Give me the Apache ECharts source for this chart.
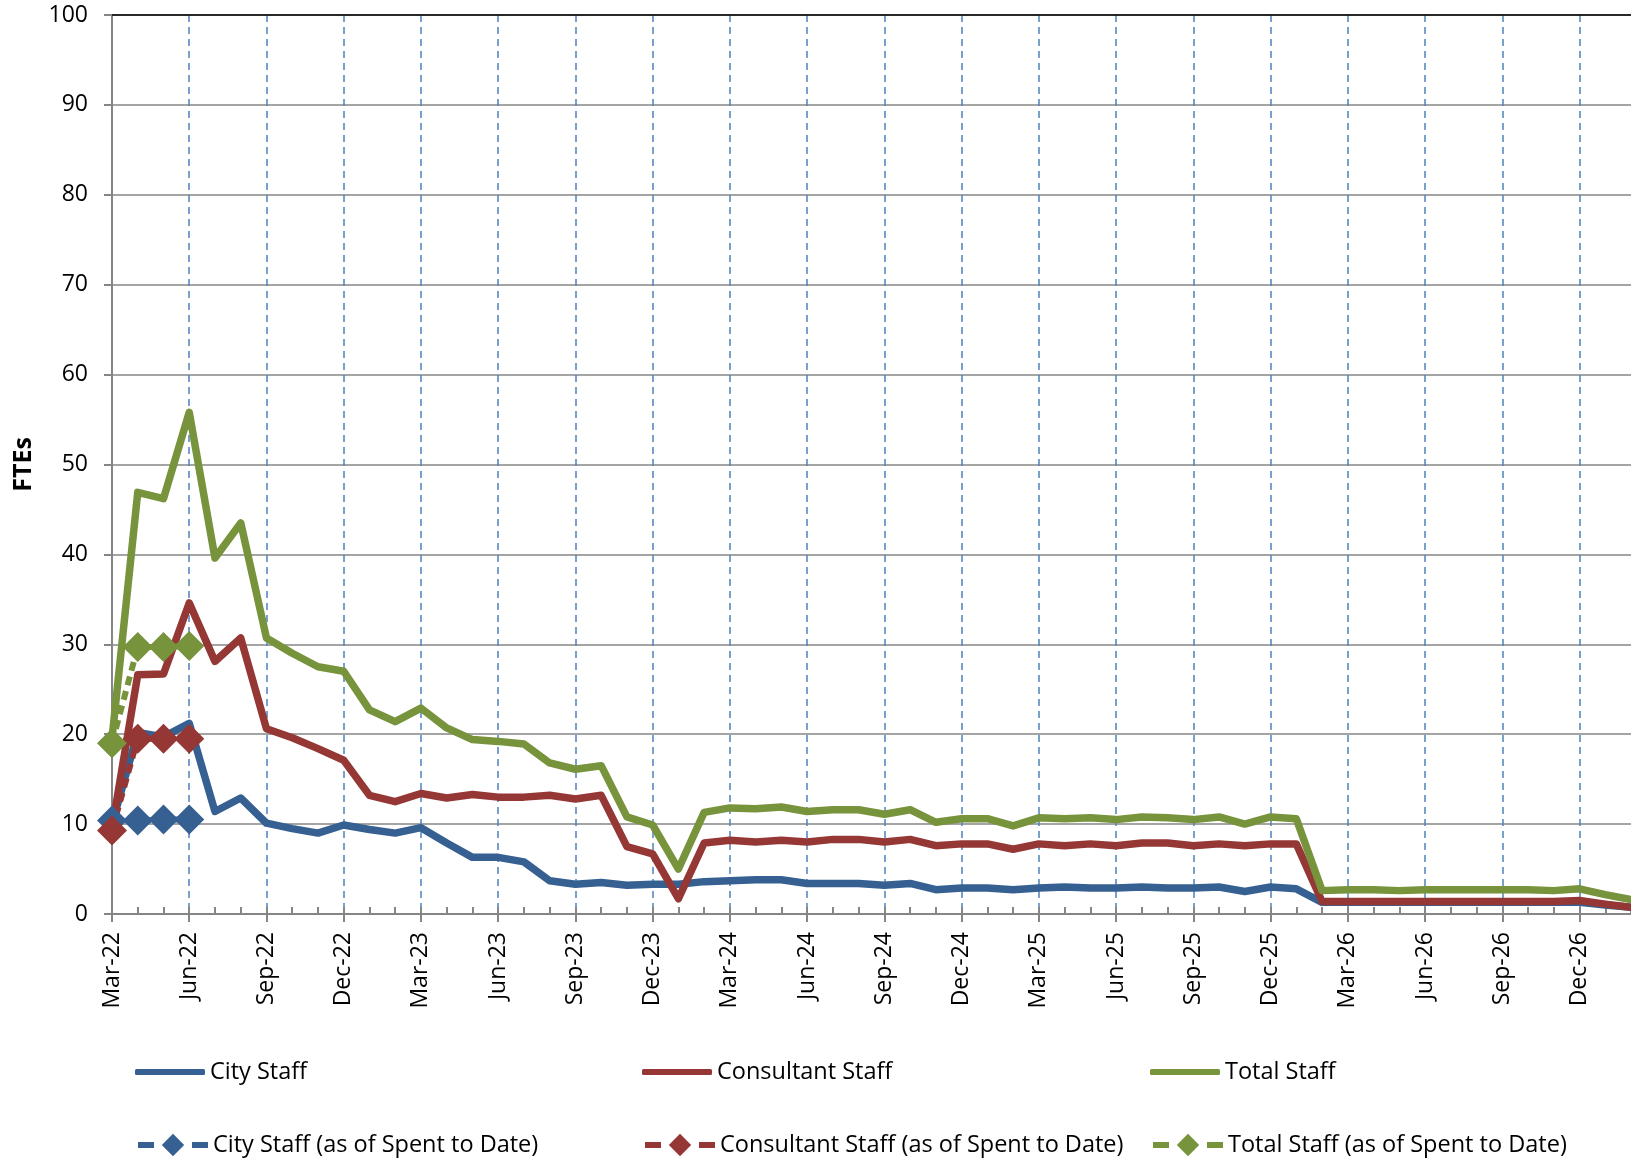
<!DOCTYPE html>
<html>
<head>
<meta charset="utf-8">
<script src="https://cdn.jsdelivr.net/npm/echarts@6/dist/echarts.min.js"></script>
<style>
  html, body { margin: 0; padding: 0; background: #fff; }
  #chart { width: 1631px; height: 1160px; }
</style>
</head>
<body>
<div id="chart"></div>
<script>
// months on the x axis (Mar-22 .. Feb-27)
var months = [
  'Mar-22','Apr-22','May-22','Jun-22','Jul-22','Aug-22','Sep-22','Oct-22','Nov-22','Dec-22',
  'Jan-23','Feb-23','Mar-23','Apr-23','May-23','Jun-23','Jul-23','Aug-23','Sep-23','Oct-23','Nov-23','Dec-23',
  'Jan-24','Feb-24','Mar-24','Apr-24','May-24','Jun-24','Jul-24','Aug-24','Sep-24','Oct-24','Nov-24','Dec-24',
  'Jan-25','Feb-25','Mar-25','Apr-25','May-25','Jun-25','Jul-25','Aug-25','Sep-25','Oct-25','Nov-25','Dec-25',
  'Jan-26','Feb-26','Mar-26','Apr-26','May-26','Jun-26','Jul-26','Aug-26','Sep-26','Oct-26','Nov-26','Dec-26',
  'Jan-27','Feb-27'
];

var cityStaff = [
  10.0, 20.2, 19.7, 21.2, 11.4, 12.9, 10.1, 9.5, 9.0, 9.9,
  9.4, 9.0, 9.6, 7.9, 6.3, 6.3, 5.8, 3.7, 3.3, 3.5, 3.2, 3.3,
  3.3, 3.6, 3.7, 3.8, 3.8, 3.4, 3.4, 3.4, 3.2, 3.4, 2.7, 2.9,
  2.9, 2.7, 2.9, 3.0, 2.9, 2.9, 3.0, 2.9, 2.9, 3.0, 2.5, 3.0,
  2.8, 1.3, 1.3, 1.3, 1.3, 1.3, 1.3, 1.3, 1.3, 1.3, 1.3, 1.3,
  1.0, 0.75
];

var consultantStaff = [
  9.5, 26.6, 26.7, 34.6, 28.1, 30.7, 20.6, 19.6, 18.4, 17.1,
  13.2, 12.5, 13.4, 12.9, 13.3, 13.0, 13.0, 13.2, 12.8, 13.2, 7.5, 6.7,
  1.7, 7.9, 8.2, 8.0, 8.2, 8.0, 8.3, 8.3, 8.0, 8.3, 7.6, 7.8,
  7.8, 7.2, 7.8, 7.6, 7.8, 7.6, 7.9, 7.9, 7.6, 7.8, 7.6, 7.8,
  7.8, 1.4, 1.4, 1.4, 1.4, 1.4, 1.4, 1.4, 1.4, 1.4, 1.4, 1.5,
  1.1, 0.75
];

var totalStaff = [
  19.5, 46.9, 46.2, 55.8, 39.6, 43.5, 30.7, 29.0, 27.5, 27.0,
  22.7, 21.4, 22.9, 20.7, 19.4, 19.2, 18.9, 16.8, 16.1, 16.5, 10.8, 9.9,
  5.0, 11.3, 11.8, 11.7, 11.9, 11.4, 11.6, 11.6, 11.1, 11.6, 10.2, 10.6,
  10.6, 9.8, 10.7, 10.6, 10.7, 10.5, 10.8, 10.7, 10.5, 10.8, 10.0, 10.8,
  10.6, 2.6, 2.7, 2.7, 2.6, 2.7, 2.7, 2.7, 2.7, 2.7, 2.6, 2.8,
  2.15, 1.6
];

// "as of Spent to Date" points (Mar-22 .. Jun-22)
var citySpent = [10.4, 10.4, 10.5, 10.5];
var consultantSpent = [9.3, 19.5, 19.5, 19.5];
var totalSpent = [19.0, 29.7, 29.7, 29.8];

var yTicks = { min: 0, max: 100, interval: 10 };

var BLUE = '#366092', RED = '#953735', GREEN = '#77933C';
var FONT = '"Open Sans", sans-serif';

var chart = echarts.init(document.getElementById('chart'));

function solid(name, color, data) {
  return {
    name: name, type: 'line', data: data, xAxisIndex: 0,
    symbol: 'none', smooth: false,
    lineStyle: { color: color, width: 7.5, cap: 'round', join: 'round' },
    itemStyle: { color: color },
    z: 3
  };
}
function spent(name, color, data) {
  return {
    name: name, type: 'line', data: data, xAxisIndex: 0,
    symbol: 'diamond', symbolSize: 30, showSymbol: true, showAllSymbol: true,
    lineStyle: { color: color, width: 6, type: [9, 6] },
    itemStyle: { color: color },
    z: 4
  };
}
// one legend box per item so the 3x2 layout is exact
function legendSolid(left, top, name, color) {
  return {
    left: left, top: top, icon: 'roundRect',
    itemWidth: 70, itemHeight: 6,
    itemStyle: { color: color },
    textStyle: { fontFamily: FONT, fontSize: 23.5, color: '#000', lineHeight: 30 },
    data: [name]
  };
}
function legendSpent(left, top, name, color) {
  return {
    left: left, top: top,
    itemWidth: 70, itemHeight: 28,
    lineStyle: { color: color, width: 6, type: [16, 38] },
    itemStyle: { color: color },
    textStyle: { fontFamily: FONT, fontSize: 23.5, color: '#000', lineHeight: 30 },
    data: [name]
  };
}

var option = {
  animation: false,
  backgroundColor: '#fff',
  grid: { left: 112, right: 0, top: 15, bottom: 246, containLabel: false },
  legend: [
    legendSolid(130, 1052, 'City Staff', BLUE),
    legendSolid(637, 1052, 'Consultant Staff', RED),
    legendSolid(1145, 1052, 'Total Staff', GREEN),
    legendSpent(130, 1125, 'City Staff (as of Spent to Date)', BLUE),
    legendSpent(637, 1125, 'Consultant Staff (as of Spent to Date)', RED),
    legendSpent(1145, 1125, 'Total Staff (as of Spent to Date)', GREEN)
  ],
  xAxis: [
    {
      type: 'category', data: months, boundaryGap: false, position: 'bottom',
      axisLine: { show: true, lineStyle: { color: '#868686', width: 2 } },
      axisTick: { show: true, interval: 2, length: 8, lineStyle: { color: '#868686', width: 2 } },
      axisLabel: {
        interval: 2, rotate: 90, margin: 18,
        fontFamily: FONT, fontSize: 23, color: '#000'
      },
      splitLine: {
        show: true, interval: 2,
        lineStyle: { color: '#4F81BD', width: 1.5, type: [7, 5] }
      }
    },
    {
      type: 'category', data: months, boundaryGap: false, position: 'bottom',
      axisLine: { show: false },
      axisTick: { show: true, inside: true, interval: 0, length: 7, lineStyle: { color: '#868686', width: 2 } },
      axisLabel: { show: false },
      splitLine: { show: false }
    },
    {
      type: 'category', data: months, boundaryGap: false, position: 'top',
      axisLine: { show: true, onZero: false, lineStyle: { color: '#000', width: 1.5 } },
      axisTick: { show: false },
      axisLabel: { show: false },
      splitLine: { show: false }
    }
  ],
  yAxis: {
    type: 'value', min: yTicks.min, max: yTicks.max, interval: yTicks.interval,
    name: 'FTEs', nameLocation: 'middle', nameGap: 76,
    nameTextStyle: { fontFamily: FONT, fontSize: 25, fontWeight: 'bold', color: '#000' },
    axisLine: { show: true, lineStyle: { color: '#868686', width: 2 } },
    axisTick: { show: true, length: 8, lineStyle: { color: '#868686', width: 2 } },
    axisLabel: { margin: 24, fontFamily: FONT, fontSize: 23, color: '#000' },
    splitLine: { show: true, lineStyle: { color: '#868686', width: 1.5 } }
  },
  series: [
    solid('City Staff', BLUE, cityStaff),
    solid('Consultant Staff', RED, consultantStaff),
    solid('Total Staff', GREEN, totalStaff),
    spent('City Staff (as of Spent to Date)', BLUE, citySpent),
    spent('Consultant Staff (as of Spent to Date)', RED, consultantSpent),
    spent('Total Staff (as of Spent to Date)', GREEN, totalSpent)
  ]
};

chart.setOption(option);
</script>
</body>
</html>
